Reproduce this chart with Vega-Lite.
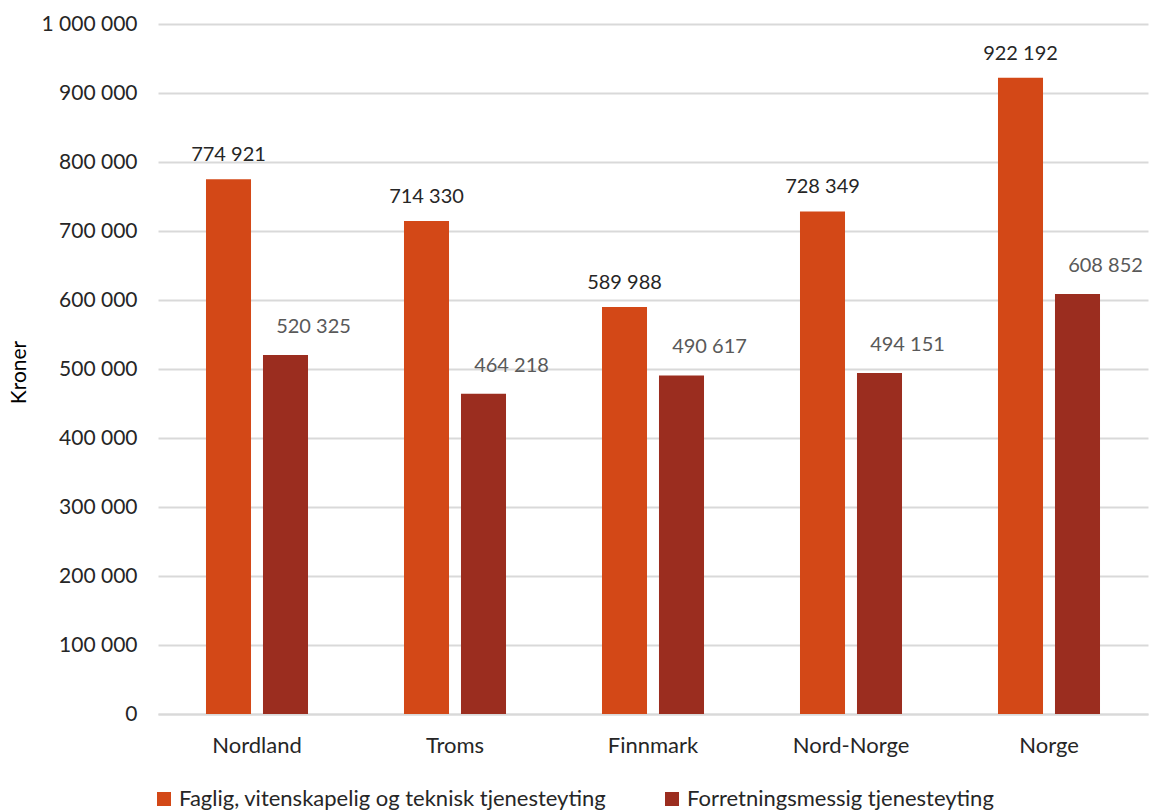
{
  "$schema": "https://vega.github.io/schema/vega-lite/v6.json",
  "width": 990,
  "height": 690,
  "autosize": "none",
  "padding": {"left": 158, "top": 24, "right": 11, "bottom": 98},
  "background": "#ffffff",
  "config": {
    "locale": {
      "number": {"decimal": ",", "thousands": " ", "grouping": [3], "currency": ["", " kr"]}
    },
    "font": "Lato",
    "view": {"stroke": null}
  },
  "data": {
    "values": [
      {"region": "Nordland", "næring": "Faglig, vitenskapelig og teknisk tjenesteyting", "kroner": 774921},
      {"region": "Nordland", "næring": "Forretningsmessig tjenesteyting", "kroner": 520325},
      {"region": "Troms", "næring": "Faglig, vitenskapelig og teknisk tjenesteyting", "kroner": 714330},
      {"region": "Troms", "næring": "Forretningsmessig tjenesteyting", "kroner": 464218},
      {"region": "Finnmark", "næring": "Faglig, vitenskapelig og teknisk tjenesteyting", "kroner": 589988},
      {"region": "Finnmark", "næring": "Forretningsmessig tjenesteyting", "kroner": 490617},
      {"region": "Nord-Norge", "næring": "Faglig, vitenskapelig og teknisk tjenesteyting", "kroner": 728349},
      {"region": "Nord-Norge", "næring": "Forretningsmessig tjenesteyting", "kroner": 494151},
      {"region": "Norge", "næring": "Faglig, vitenskapelig og teknisk tjenesteyting", "kroner": 922192},
      {"region": "Norge", "næring": "Forretningsmessig tjenesteyting", "kroner": 608852}
    ]
  },
  "encoding": {
    "x": {
      "field": "region",
      "type": "nominal",
      "scale": {
        "domain": ["Nordland", "Troms", "Finnmark", "Nord-Norge", "Norge"],
        "paddingInner": 0,
        "paddingOuter": 0
      },
      "axis": {
        "title": null,
        "labelAngle": 0,
        "labelFontSize": 22,
        "labelColor": "#262626",
        "labelPadding": 21,
        "ticks": false,
        "domainColor": "#D9D9D9",
        "domainWidth": 2,
        "grid": false
      }
    },
    "xOffset": {
      "field": "næring",
      "type": "nominal",
      "scale": {
        "domain": ["Faglig, vitenskapelig og teknisk tjenesteyting", "Forretningsmessig tjenesteyting"],
        "paddingInner": 0.21,
        "paddingOuter": 0.842
      }
    },
    "y": {
      "field": "kroner",
      "type": "quantitative",
      "scale": {"domain": [0, 1000000], "nice": false},
      "axis": {
        "title": "Kroner",
        "titleFontSize": 21,
        "titleFontWeight": "normal",
        "titleColor": "#000000",
        "titleX": -139,
        "titleY": 348,
        "titleAlign": "center",
        "titleBaseline": "middle",
        "values": [0, 100000, 200000, 300000, 400000, 500000, 600000, 700000, 800000, 900000, 1000000],
        "format": ",d",
        "labelFontSize": 21,
        "labelColor": "#262626",
        "labelPadding": 21,
        "ticks": false,
        "domain": false,
        "gridColor": "#D9D9D9",
        "gridWidth": 2
      }
    }
  },
  "layer": [
    {
      "mark": {"type": "bar"},
      "encoding": {
        "color": {
          "field": "næring",
          "type": "nominal",
          "scale": {
            "domain": ["Faglig, vitenskapelig og teknisk tjenesteyting", "Forretningsmessig tjenesteyting"],
            "range": ["#D34817", "#9B2D1F"]
          },
          "legend": {
            "title": null,
            "orient": "none",
            "direction": "horizontal",
            "legendX": -5,
            "legendY": 764,
            "symbolType": "square",
            "symbolSize": 196,
            "symbolStrokeWidth": 0,
            "labelFontSize": 22,
            "labelColor": "#262626",
            "labelLimit": 700,
            "labelOffset": 4,
            "columnPadding": 54
          }
        }
      }
    },
    {
      "transform": [{"filter": "datum['næring'] === 'Faglig, vitenskapelig og teknisk tjenesteyting'"}],
      "mark": {"type": "text", "baseline": "middle", "dy": -24, "fontSize": 20, "color": "#262626"},
      "encoding": {
        "text": {"field": "kroner", "type": "quantitative", "format": ",d"}
      }
    },
    {
      "transform": [{"filter": "datum['næring'] === 'Forretningsmessig tjenesteyting'"}],
      "mark": {"type": "text", "baseline": "middle", "dy": -28, "dx": 28, "fontSize": 20, "color": "#595959"},
      "encoding": {
        "text": {"field": "kroner", "type": "quantitative", "format": ",d"}
      }
    }
  ]
}
